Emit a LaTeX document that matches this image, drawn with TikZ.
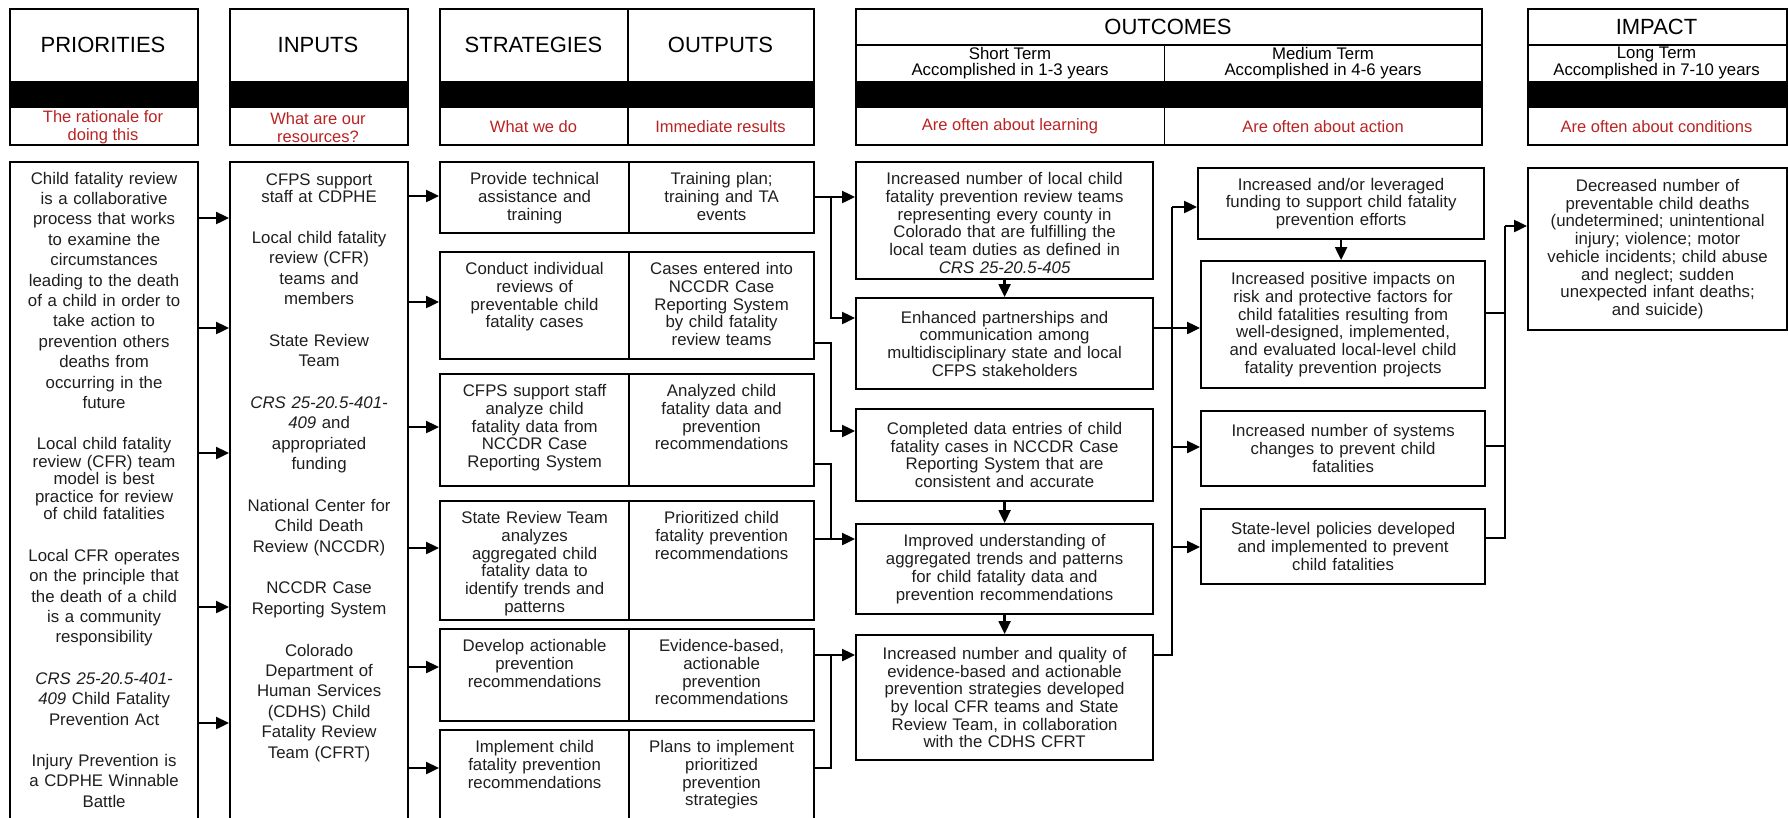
\documentclass[tikz,border=0pt]{standalone}
\usepackage{fontspec}
\setmainfont{Liberation Sans}
\usepackage{xcolor}
\usepackage{tikz}
\usetikzlibrary{arrows.meta}
\definecolor{rowred}{RGB}{185,35,35}
\definecolor{bodygray}{RGB}{30,30,30}
\tikzstyle{headbox} = [rectangle, draw=black, line width=1.6pt, anchor=north west, inner sep=0pt]
\tikzstyle{headline} = [line width=1.6pt]
\tikzstyle{headtitle} = [font=\fontsize{22}{26}\selectfont, text=black]
\tikzstyle{headsub} = [font=\fontsize{16.8}{16.7}\selectfont, align=center, text=black]
\tikzstyle{headred} = [font=\fontsize{16.5}{18.3}\selectfont, align=center, text=rowred]
\tikzstyle{colbox} = [rectangle, draw=black, line width=2.2pt, anchor=north west, inner xsep=4pt, inner ysep=0pt, align=center, text=bodygray, font=\fontsize{16.8}{20.4}\selectfont, text height=22pt]
\tikzstyle{topbox} = [rectangle, draw=black, line width=2.2pt, anchor=north west, inner xsep=4pt, inner ysep=0pt, align=center, text=bodygray, font=\fontsize{16.8}{17.7}\selectfont, text height=22.5pt]
\tikzstyle{outbox} = [rectangle, draw=black, line width=2.2pt, anchor=north west, inner xsep=4pt, inner ysep=0pt, align=center, text=bodygray, font=\fontsize{16.8}{17.7}\selectfont]
\tikzstyle{arrow} = [line width=2.4pt, -{Triangle[length=13pt, width=12pt]}]
\tikzstyle{link} = [line width=2.4pt]

\begin{document}
\begin{tikzpicture}[x=1pt, y=-1pt]
	\useasboundingbox (0,0) rectangle (1788,817);
	
	\node (hpri) [headbox, minimum width=188pt, minimum height=136pt] at (9,8.3) {};
	\node (hinp) [headbox, minimum width=178pt, minimum height=136pt] at (229,8.3) {};
	\node (hstr) [headbox, minimum width=374pt, minimum height=136pt] at (439,8.3) {};
	\node (hout) [headbox, minimum width=626pt, minimum height=136pt] at (855,8.3) {};
	\node (himp) [headbox, minimum width=259pt, minimum height=136pt] at (1527,8.3) {};
	\fill [black] (9,80.7) rectangle (197,108.3);
	\fill [black] (229,80.7) rectangle (407,108.3);
	\fill [black] (439,80.7) rectangle (813,108.3);
	\fill [black] (855,80.7) rectangle (1481,108.3);
	\fill [black] (1527,80.7) rectangle (1786,108.3);
	\draw [headline] (628,8.3) -- (628,144.3);
	\draw [headline] (855,45) -- (1481,45);
	\draw [headline] (1164.5,45) -- (1164.5,144.3);
	\draw [headline] (1527,45) -- (1786,45);
	
	\node (tpri) [headtitle] at (103,45) {PRIORITIES};
	\node (tinp) [headtitle] at (318,45) {INPUTS};
	\node (tstr) [headtitle] at (533.5,45) {STRATEGIES};
	\node (tres) [headtitle] at (720.5,45) {OUTPUTS};
	\node (tout) [headtitle] at (1168,26.7) {OUTCOMES};
	\node (timp) [headtitle] at (1656.5,26.7) {IMPACT};
	\node (sshort) [headsub] at (1010,63.3) {Short Term\\Accomplished in 1-3 years};
	\node (smed) [headsub] at (1323,63.3) {Medium Term\\Accomplished in 4-6 years};
	\node (slong) [headsub] at (1656.5,63.3) {Long Term\\Accomplished in 7-10 years};
	\node (rpri) [headred] at (103,127.5) {The rationale for\\doing this};
	\node (rinp) [headred] at (318,127.5) {What are our\\resources?};
	\node (rstr) [headred] at (533.5,126.5) {What we do};
	\node (rres) [headred] at (720.5,126.5) {Immediate results};
	\node (rshort) [headred] at (1010,126.5) {Are often about learning};
	\node (rmed) [headred] at (1323,126.5) {Are often about action};
	\node (rlong) [headred] at (1656.5,126.5) {Are often about conditions};
	
	\node (pri) [colbox, text width=180pt, text depth=637pt] at (9,161) {Child fatality review\\is a collaborative\\process that works\\to examine the\\circumstances\\leading to the death\\of a child in order to\\take action to\\prevention others\\deaths from\\occurring in the\\future\\[21pt]
		Local child fatality\\[-2.9pt]review (CFR) team\\[-2.9pt]model is best\\[-2.9pt]practice for review\\[-2.9pt]of child fatalities\\[21pt]
		Local CFR operates\\on the principle that\\the death of a child\\is a community\\responsibility\\[21pt]
		\textit{CRS 25-20.5-401-}\\\textit{409} Child Fatality\\Prevention Act\\[21pt]
		Injury Prevention is\\a CDPHE Winnable\\Battle};
	\node (inp) [colbox, text width=170pt, text height=23pt, text depth=636pt] at (229,161) {CFPS support\\[-3.4pt]staff at CDPHE\\[21pt]
		Local child fatality\\review (CFR)\\teams and\\members\\[21.3pt]
		State Review\\Team\\[21.3pt]
		\textit{CRS 25-20.5-401-}\\\textit{409} and\\appropriated\\funding\\[21.3pt]
		National Center for\\Child Death\\Review (NCCDR)\\[21.3pt]
		NCCDR Case\\Reporting System\\[21.3pt]
		Colorado\\Department of\\Human Services\\(CDHS) Child\\Fatality Review\\Team (CFRT)};
	
	\node (s1) [topbox, text width=181pt, text depth=48.5pt] at (439,161) {Provide technical\\assistance and\\training};
	\node (o1) [topbox, text width=177pt, text depth=48.5pt] at (628,161) {Training plan;\\training and TA\\events};
	\node (s2) [topbox, text width=181pt, text depth=84.5pt] at (439,251) {Conduct individual\\reviews of\\preventable child\\fatality cases};
	\node (o2) [topbox, text width=177pt, text depth=84.5pt] at (628,251) {Cases entered into\\NCCDR Case\\Reporting System\\by child fatality\\review teams};
	\node (s3) [topbox, text width=181pt, text depth=89.5pt] at (439,373) {CFPS support staff\\analyze child\\fatality data from\\NCCDR Case\\Reporting System};
	\node (o3) [topbox, text width=177pt, text depth=89.5pt] at (628,373) {Analyzed child\\fatality data and\\prevention\\recommendations};
	\node (s4) [topbox, text width=181pt, text depth=96.5pt] at (439,500) {State Review Team\\analyzes\\aggregated child\\fatality data to\\identify trends and\\patterns};
	\node (o4) [topbox, text width=177pt, text depth=96.5pt] at (628,500) {Prioritized child\\fatality prevention\\recommendations};
	\node (s5) [topbox, text width=181pt, text depth=69.5pt] at (439,628) {Develop actionable\\prevention\\recommendations};
	\node (o5) [topbox, text width=177pt, text depth=69.5pt] at (628,628) {Evidence-based,\\actionable\\prevention\\recommendations};
	\node (s6) [topbox, text width=181pt, text depth=68.5pt] at (439,729) {Implement child\\fatality prevention\\recommendations};
	\node (o6) [topbox, text width=177pt, text depth=68.5pt] at (628,729) {Plans to implement\\prioritized\\prevention\\strategies};
	
	\node (st1) [topbox, text width=289pt, text depth=94.5pt] at (855,161) {Increased number of local child\\fatality prevention review teams\\representing every county in\\Colorado that are fulfilling the\\local team duties as defined in\\\textit{CRS 25-20.5-405}};
	\node (st2) [outbox, text width=289pt, minimum height=91pt] at (855,297) {Enhanced partnerships and\\communication among\\multidisciplinary state and local\\CFPS stakeholders};
	\node (st3) [outbox, text width=289pt, minimum height=92pt] at (855,408) {Completed data entries of child\\fatality cases in NCCDR Case\\Reporting System that are\\consistent and accurate};
	\node (st4) [outbox, text width=289pt, minimum height=90pt] at (855,523) {Improved understanding of\\aggregated trends and patterns\\for child fatality data and\\prevention recommendations};
	\node (st5) [outbox, text width=289pt, minimum height=125pt] at (855,634) {Increased number and quality of\\evidence-based and actionable\\prevention strategies developed\\by local CFR teams and State\\Review Team, in collaboration\\with the CDHS CFRT};
	
	\node (m1) [outbox, text width=278pt, minimum height=71pt] at (1197,167) {Increased and/or leveraged\\funding to support child fatality\\prevention efforts};
	\node (m2) [outbox, text width=276pt, minimum height=127pt] at (1200,260) {Increased positive impacts on\\risk and protective factors for\\child fatalities resulting from\\well-designed, implemented,\\and evaluated local-level child\\fatality prevention projects};
	\node (m3) [outbox, text width=276pt, minimum height=75pt] at (1200,410) {Increased number of systems\\changes to prevent child\\fatalities};
	\node (m4) [outbox, text width=276pt, minimum height=75pt] at (1200,508) {State-level policies developed\\and implemented to prevent\\child fatalities};
	
	\node (imp) [outbox, text width=251pt, minimum height=162pt] at (1527,167) {Decreased number of\\preventable child deaths\\(undetermined; unintentional\\injury; violence; motor\\vehicle incidents; child abuse\\and neglect; sudden\\unexpected infant deaths;\\and suicide)};
	
	\draw [arrow] (pri.east |- 0,218) -- (inp.west |- 0,218);
	\draw [arrow] (pri.east |- 0,328) -- (inp.west |- 0,328);
	\draw [arrow] (pri.east |- 0,453) -- (inp.west |- 0,453);
	\draw [arrow] (pri.east |- 0,607) -- (inp.west |- 0,607);
	\draw [arrow] (pri.east |- 0,723) -- (inp.west |- 0,723);
	
	\draw [arrow] (inp.east |- 0,196) -- (s1.west |- 0,196);
	\draw [arrow] (inp.east |- 0,302) -- (s2.west |- 0,302);
	\draw [arrow] (inp.east |- 0,427) -- (s3.west |- 0,427);
	\draw [arrow] (inp.east |- 0,548) -- (s4.west |- 0,548);
	\draw [arrow] (inp.east |- 0,667) -- (s5.west |- 0,667);
	\draw [arrow] (inp.east |- 0,768) -- (s6.west |- 0,768);
	
	\coordinate (b1) at (831,197);
	\draw [arrow] (o1.east |- b1) -- (st1.west |- b1);
	\draw [arrow] (b1) |- (st2.west |- 0,318);
	\draw [arrow] (o2.east |- 0,343) -| (831,431) -- (st3.west |- 0,431);
	\draw [link] (o3.east |- 0,464) -| (831,539);
	\draw [arrow] (o4.east |- 0,539) -- (st4.west |- 0,539);
	\draw [arrow] (o5.east |- 0,655) -- (st5.west |- 0,655);
	\draw [link] (o6.east |- 0,768) -| (831,655);
	
	\draw [arrow] (st1.south) -- (st2.north);
	\draw [arrow] (st3.south) -- (st4.north);
	\draw [arrow] (st4.south) -- (st5.north);
	
	\draw [arrow] (st2.east |- 0,328) -- (m2.west |- 0,328);
	\draw [link] (st5.east |- 0,655) -| (1172,207);
	\draw [arrow] (1172,207) -- (m1.west |- 0,207);
	\draw [arrow] (1172,447) -- (m3.west |- 0,447);
	\draw [arrow] (1172,547) -- (m4.west |- 0,547);
	\draw [arrow] (m1.south) -- (m1.south |- m2.north);
	
	\draw [link] (m4.east |- 0,538) -| (1505,226);
	\draw [link] (m2.east |- 0,313) -- (1505,313);
	\draw [link] (m3.east |- 0,446) -- (1505,446);
	\draw [arrow] (1505,226) -- (imp.west |- 0,226);
	
\end{tikzpicture}
\end{document}
